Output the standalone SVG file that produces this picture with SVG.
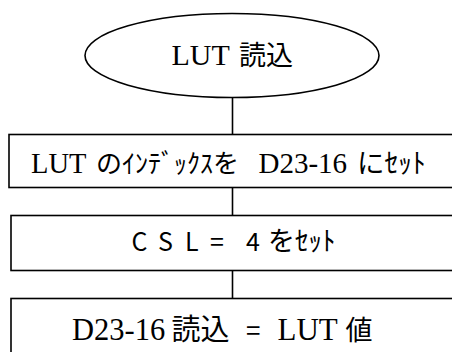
<svg xmlns="http://www.w3.org/2000/svg" width="452" height="352" viewBox="0 0 452 352">
<style>
.shape{fill:#fff;stroke:#000;stroke-width:1.6}
.conn{stroke:#000;stroke-width:1.6;fill:none}
.lat{font-family:"Liberation Serif","Noto Sans CJK JP",serif;fill:#000}
.jp{font-family:"Noto Sans CJK JP","Liberation Sans",sans-serif;fill:#000}
</style>
<rect width="452" height="352" fill="#fff"/>
<g id="connectors">
<line class="conn" x1="232.5" y1="97.5" x2="232.5" y2="134.5"/>
<line class="conn" x1="232.5" y1="187.5" x2="232.5" y2="215.5"/>
<line class="conn" x1="232.5" y1="270.5" x2="232.5" y2="298.5"/>
</g>
<g id="start">
<ellipse class="shape" cx="232" cy="55.5" rx="147" ry="42"/>
<text y="65"><tspan class="lat" x="171.5" font-size="30">LUT </tspan><tspan class="jp" x="239" font-size="27">読込</tspan></text>
</g>
<g id="step1">
<rect class="shape" x="9" y="134.5" width="460" height="53"/>
<text y="173"><tspan class="lat" x="31" font-size="28.5">LUT </tspan><tspan class="jp" x="96" font-size="26">のｲﾝﾃﾞｯｸｽを </tspan><tspan class="lat" x="258.5" font-size="29">D23-16 </tspan><tspan class="jp" x="357" font-size="27.5">にｾｯﾄ</tspan></text>
</g>
<g id="step2">
<rect class="shape" x="11" y="215.5" width="460" height="55" stroke-width="2"/>
<text y="251" class="jp" font-size="25"><tspan x="131.5">C </tspan><tspan x="158">S </tspan><tspan x="185">L </tspan><tspan x="210">= </tspan><tspan x="246">4 </tspan><tspan x="268" font-size="27">をｾｯﾄ</tspan></text>
</g>
<g id="step3">
<rect class="shape" x="11" y="298.5" width="460" height="80" stroke-width="2"/>
<text y="340"><tspan class="lat" x="72" font-size="30.5">D23-16 </tspan><tspan class="jp" x="171.5" font-size="29">読込 </tspan><tspan class="jp" x="246" font-size="26">= </tspan><tspan class="lat" x="277.5" font-size="31">LUT </tspan><tspan class="jp" x="345.5" font-size="27">値</tspan></text>
</g>
</svg>
